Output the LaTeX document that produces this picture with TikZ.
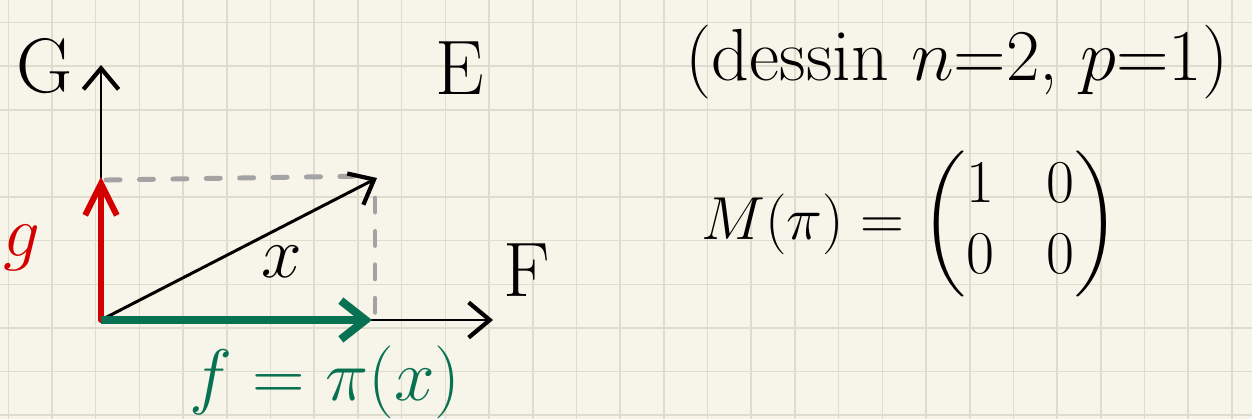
\documentclass[tikz,border=0pt]{standalone}
\usepackage{amsmath}
\usetikzlibrary{arrows.meta}
\definecolor{paper}{HTML}{F7F5E9}
\definecolor{gridc}{HTML}{DDDCCD}
\definecolor{redv}{HTML}{D40000}
\definecolor{greenv}{HTML}{087152}
\definecolor{dashc}{HTML}{A3A3A3}
\begin{document}
\begin{tikzpicture}[x=0.01cm,y=-0.01cm,
  gridline/.style={gridc, line width=0.45pt},
  axis/.style={black, line width=0.85pt, line cap=round,
    -{Straight Barb[length=6pt,width=10pt,line width=1.2pt]}},
  redarrow/.style={redv, line width=1.7pt, line cap=round,
    -{Straight Barb[length=9pt,width=9pt,line width=1.7pt]}},
  greenarrow/.style={greenv, line width=2.3pt,
    -{Straight Barb[length=7pt,width=11pt,line width=2.3pt]}},
  dashline/.style={dashc, line width=1.4pt, line cap=round, dash pattern=on 4pt off 5.5pt},
  lab/.style={inner sep=0pt, font=\fontsize{22}{26}\selectfont},
]
\fill[paper] (0,0) rectangle (1252,419);
\useasboundingbox (0,0) rectangle (1252,419);
\foreach \k in {0,...,28} \draw[gridline] ({8.3+43.7*\k},0) -- ({8.3+43.7*\k},419);
\foreach \k in {0,...,9} \draw[gridline] (0,{22.7+43.6*\k}) -- (1252,{22.7+43.6*\k});

\coordinate (O) at (101,320);
\coordinate (Gtip) at (101,65);
\coordinate (Ftip) at (493,320);
\coordinate (gtip) at (101,177);
\coordinate (ftip) at (372,320);
\coordinate (xtip) at (377,178);
\coordinate (d1) at (106,180);
\coordinate (d2) at (372,176);
\coordinate (d3) at (375,198);
\coordinate (d4) at (375,316);

\draw[dashline] (d1) -- (d2);
\draw[dashline] (d3) -- (d4);
\draw[axis] (O) -- (Gtip);
\draw[axis] (O) -- (Ftip);
\draw[axis] (O) -- (xtip);
\draw[redarrow] (O) -- (gtip);
\draw[greenarrow] (O) -- (ftip);

\node[lab] (G) at (45,66) {G};
\node[lab] (E) at (460,68) {E};
\node[lab] (F) at (527,270) {F};
\node[lab, text=redv] (g) at (22,248) {$g$};
\node[lab] (x) at (282,262) {$x$};
\node[lab, text=greenv] (f) at (325,382) {$f=\pi(x)$};

\node[inner sep=0pt, font=\fontsize{21}{26}\selectfont] (dessin) at (957,62)
  {(dessin $n{=}2$, $p{=}1$)};
\node[inner sep=0pt, font=\fontsize{16}{20}\selectfont] (M) at (910,224)
  {$M(\pi)=\begin{pmatrix}1&\;0\\0&\;0\end{pmatrix}$};
\end{tikzpicture}
\end{document}
